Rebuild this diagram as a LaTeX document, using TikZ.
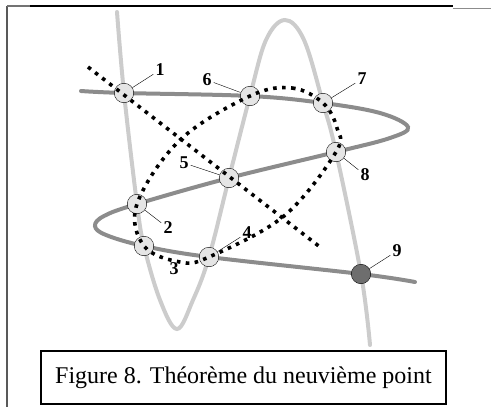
\documentclass[tikz,border=0pt]{standalone}
\usepackage{fontspec}
\setmainfont{Liberation Serif}
\usetikzlibrary{positioning}

\begin{document}
\begin{tikzpicture}[
  x=1pt, y=-1pt,
  lite/.style={draw=black!20, line width=4pt, line cap=round},
  dark/.style={draw=black!45, line width=4pt, line cap=round},
  dots/.style={draw=black, line width=3.6pt, dash pattern=on 3.6pt off 5.4pt},
  pt/.style={circle, draw, thin, fill=black!10, minimum size=19.5pt, inner sep=0pt},
  ninth/.style={pt, fill=black!57},
  num/.style={font=\fontsize{18}{20}\selectfont\bfseries, inner sep=2pt},
  leader/.style={draw, thin}
]
\useasboundingbox (0,0) rectangle (491,407);

% frame
\draw[black!65, line width=2pt] (7,6) -- (7,407);
\draw[black!55, line width=1.2pt] (7,6) -- (30,6);
\draw[line width=1.5pt] (30,6) -- (453,6);
\draw[black!45, line width=1.2pt] (453,8.5) -- (491,8.5);

% the nine points
\coordinate (p1) at (124,93);
\coordinate (p2) at (137,204);
\coordinate (p3) at (144,246);
\coordinate (p4) at (209,257);
\coordinate (p5) at (229,178);
\coordinate (p6) at (250,96);
\coordinate (p7) at (323,103);
\coordinate (p8) at (336,152);
\coordinate (p9) at (361,274);

% the two cubics
\draw[lite] plot[smooth, tension=0.6] coordinates {(117,12) (p1) (p2) (p3) (160,300) (177,329) (193,300) (p4) (p5) (p6) (266,40) (285,20) (304,40) (p7) (p8) (p9) (370,345)};
\draw[dark] plot[smooth, tension=0.6] coordinates {(81,91) (p1) (p6) (p7) (380,113) (408,127) (390,138) (p8) (p5) (p2) (104,216) (95,226) (106,235) (p3) (p4) (p9) (415,282)};

% circles
\foreach \i in {1,...,8}
  \node[pt] (c\i) at (p\i) {};
\node[ninth] (c9) at (p9) {};

% line and conic
\draw[dots] (88,67) -- (320,247);
\draw[dots] plot[smooth cycle, tension=0.6] coordinates {(p6) (292,88) (p7) (337,128) (p8) (284,216) (p4) (180,262) (p3) (p2) (180,140)};

% labels
\node[num] (l1) at (160,70) {1};
\node[num] (l2) at (168,228) {2};
\node[num] (l3) at (174,269) {3};
\node[num] (l4) at (247,233) {4};
\node[num] (l5) at (184,163) {5};
\node[num] (l6) at (207,80) {6};
\node[num] (l7) at (362,79) {7};
\node[num] (l8) at (365,175) {8};
\node[num] (l9) at (397,251) {9};
\foreach \i in {1,2,4,5,6,7,8,9}
  \draw[leader] (c\i) -- (l\i);

% caption
\node[draw, line width=1.5pt, minimum width=405pt, minimum height=53pt,
  font=\fontsize{24}{28}\selectfont] (cap) at (243.5,377.5)
  {Figure 8. Théorème du neuvième point};
\end{tikzpicture}
\end{document}
